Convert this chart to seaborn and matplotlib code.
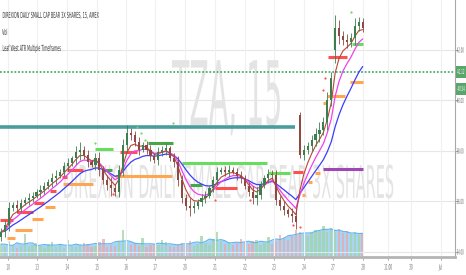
import numpy as np
import pandas as pd
import matplotlib
matplotlib.use("Agg")
import matplotlib.pyplot as plt
import seaborn as sns
from matplotlib import patheffects
from matplotlib.transforms import Affine2D
from matplotlib.patches import Rectangle

# ---------------- data ----------------
closes = [34.79, 35.07, 35.74, 35.86, 35.74, 35.94, 36.06, 36.14, 36.22, 36.38,
          36.46, 36.61, 36.77, 36.93, 37.01, 37.17, 37.41, 37.52, 37.72, 37.96,
          38.04, 37.84, 37.56, 37.45, 37.72, 37.25, 36.85, 36.65, 36.53, 36.38,
          37.25, 38.24, 38.71, 38.63, 38.36, 38.04, 38.24, 38.04, 37.80, 37.64,
          37.96, 38.04, 38.10, 37.72, 37.56, 36.85, 36.14, 35.82, 35.74, 35.82,
          35.98, 36.14, 36.22, 36.53, 36.85, 37.17, 37.25, 37.17, 37.25, 37.17,
          37.01, 36.93, 36.61, 36.38, 36.14, 36.26, 36.65, 36.93, 37.09, 37.05,
          36.06, 35.82, 35.66, 35.50, 35.43, 35.19, 37.84, 38.04, 38.20, 38.44,
          38.67, 38.83, 39.15, 40.02, 40.89, 42.87, 42.55, 42.40, 42.32, 42.48,
          42.95, 43.11, 42.87]
first_open = 34.60
gap_opens = {76: 39.43, 85: 42.00}
wicks = [0.15, 0.2, 0.25, 0.1, 0.2, 0.15, 0.1, 0.2, 0.15, 0.1,
         0.2, 0.15, 0.1, 0.2, 0.25, 0.1, 0.15, 0.2, 0.1, 0.25,
         0.3, 0.15, 0.2, 0.1, 0.2, 0.25, 0.15, 0.2, 0.3, 0.15,
         0.2, 0.25, 0.3, 0.2, 0.15, 0.2, 0.1, 0.15, 0.2, 0.1,
         0.2, 0.15, 0.2, 0.1, 0.2, 0.25, 0.2, 0.15, 0.3, 0.2,
         0.1, 0.15, 0.2, 0.1, 0.15, 0.2, 0.1, 0.15, 0.2, 0.1,
         0.15, 0.2, 0.1, 0.15, 0.25, 0.3, 0.15, 0.1, 0.2, 0.15,
         0.2, 0.15, 0.2, 0.1, 0.25, 0.3, 0.1, 0.2, 0.15, 0.2,
         0.25, 0.3, 0.2, 0.3, 0.25, 0.5, 0.3, 0.2, 0.25, 0.2,
         0.3, 0.2, 0.15]
volumes_k = [120, 90, 150, 110, 80, 100, 220, 90, 110, 130,
             100, 85, 120, 140, 95, 110, 80, 160, 100, 90,
             110, 130, 120, 95, 105, 140, 170, 90, 110, 100,
             150, 260, 120, 110, 130, 100, 180, 95, 110, 120,
             110, 160, 140, 100, 90, 120, 130, 110, 150, 100,
             120, 200, 130, 110, 170, 240, 150, 120, 140, 110,
             130, 170, 140, 120, 150, 160, 110, 130, 190, 120,
             150, 210, 180, 160, 200, 260, 240, 220, 200, 230,
             260, 250, 300, 240, 280, 260, 270, 230, 250, 220,
             240, 210, 230]

price_ticks = [34, 36, 38, 40, 42]
price_tick_labels = ["34.00", "36.00", "38.00", "40.00", "42.00"]
date_tick_pos = [1.74, 9.11, 16.75, 24.38, 31.76, 39.14, 46.77, 54.41, 62.04,
                 69.42, 77.05, 84.43, 92.07, 98.43, 104.28, 111.91]
date_tick_labels = ["10", "13", "14", "15", "16", "17", "20", "21", "22", "23",
                    "24", "27", "28", "11:00", "30", "Jul"]
last_price = 41.13
last_price_label = "41.12"
atr_value_label = "40.54"

# ATR level segments (Leaf West ATR Multiple Timeframes)
seg_start = [-0.3, 23.87, 46.01, 67.89, 89.27, 37.36, 25.91, 48.05,
             -0.3, 4.03, 8.30, 12.40, 15.50, 16.75, 30.23, 54.41, 74.26, 83.16,
             1.48, 3.52, 7.84, 11.15, 15.73, 28.96, 76.54, 78.07, 79.85, 81.89, 82.91, 88.76,
             81.89]
seg_end = [74.76, 28.45, 67.64, 73.49, 92.07, 43.72, 28.20, 51.10,
           3.01, 8.10, 10.90, 13.90, 16.75, 20.82, 34.56, 60.01, 76.80, 88.00,
           3.52, 7.84, 10.64, 13.70, 23.36, 43.47, 77.31, 79.09, 81.12, 82.91, 87.49, 92.07,
           92.07]
seg_price = [38.95, 38.08, 37.52, 37.13, 42.24, 38.32, 37.25, 36.65,
             35.27, 35.58, 35.92, 36.40, 36.95, 37.25, 37.96, 36.53, 37.17, 41.72,
             34.55, 34.87, 35.31, 35.78, 36.69, 37.01, 36.26, 36.77, 37.13, 39.90, 40.18, 40.73,
             37.29]
seg_kind = ["teal", "lime", "lime", "lime", "lime", "green", "green", "green",
            "red", "red", "red", "red", "red", "red", "red", "red", "red", "red",
            "orange", "orange", "orange", "orange", "orange", "orange", "orange", "orange",
            "orange", "orange", "orange", "orange",
            "purple"]
green_dot_x = [23.87, 34.56, 35.58, 36.60, 43.72, 89.01]
green_dot_p = [38.32, 38.95, 38.71, 38.44, 39.11, 43.50]
red_dot_x = [82.40, 81.89, 76.03, 54.41, 63.31, 28.45, 74.26]
red_dot_p = [40.89, 40.42, 34.99, 36.06, 36.06, 36.30, 35.07]

kind_colors = {"teal": "#4a9d9c", "lime": "#66dd5f", "green": "#45a845",
               "red": "#ff5050", "orange": "#ffa654", "purple": "#9d48b5"}


# ---- glyph reshaping (the reference screenshot is horizontally compressed) ----
class Reshape(patheffects.AbstractPathEffect):
    def __init__(self, sx=None, width=None, sy=1.0, anchor="left"):
        super().__init__()
        self.sx, self.width, self.sy, self.anchor = sx, width, sy, anchor

    def draw_path(self, renderer, gc, tpath, affine, rgbFace=None):
        ext = tpath.get_extents(affine)
        if self.width is not None and ext.width > 0:
            sx = self.width * renderer.dpi / 100.0 / ext.width
        else:
            sx = self.sx if self.sx is not None else 1.0
        if self.anchor == "center":
            xa = 0.5 * (ext.x0 + ext.x1)
        elif self.anchor == "right":
            xa = ext.x1
        else:
            xa = ext.x0
        yb = affine.get_matrix()[1, 2]
        aff = affine + Affine2D().translate(-xa, -yb).scale(sx, self.sy).translate(xa, yb)
        renderer.draw_path(gc, tpath, aff, rgbFace)


def reshape(txt, **kw):
    txt.set_path_effects([Reshape(**kw)])
    return txt


sns.set_theme(style="white")
plt.rcParams["font.family"] = ["DejaVu Sans"]

W, H = 466, 275
fig = plt.figure(figsize=(W / 100, H / 100), dpi=100)
fig.patch.set_facecolor("white")

ax = fig.add_axes([0, 18 / H, 455 / W, 257 / H])
vax = fig.add_axes([0, 19 / H, 455 / W, 50 / H])
vax.set_zorder(0)
ax.set_zorder(1)
ax.patch.set_alpha(0)

n = len(closes)
x = np.arange(n)
opens = [first_open] + closes[:-1]
for k, v in gap_opens.items():
    opens[k] = v
opens = np.array(opens)
cl = np.array(closes)
wk = np.array(wicks)
highs = np.maximum(opens, cl) + wk
lows = np.minimum(opens, cl) - wk
up = cl >= opens

xlim = (-0.3, 115.5)

# ---------------- volume pane ----------------
vol = np.array(volumes_k, dtype=float)
vol_ma = pd.Series(vol).rolling(5, min_periods=1, center=True).mean().values
vax.fill_between(x, 0, vol_ma, color="#a3d2f5", alpha=0.95, lw=0)
sns.lineplot(x=x, y=vol_ma, ax=vax, color="#62b3ee", lw=0.8, legend=False)
vax.bar(x, vol, width=0.6, color=np.where(up, "#9fd4a4", "#e9a8a8"), alpha=0.75, lw=0)
vax.set_xlim(*xlim)
vax.set_ylim(0, 500)
vax.axis("off")

# ---------------- main pane ----------------
ax.set_xlim(*xlim)
ax.set_ylim(33.80, 43.98)
for p in price_ticks:
    ax.axhline(p, color="#e6e6e6", lw=0.8, zorder=0)
for d in date_tick_pos:
    ax.axvline(d, color="#f0f0f0", lw=0.8, zorder=0)

# watermarks (font size chosen for the width, glyphs stretched to the height)
wm1 = ax.text(43.47, 39.03, "TZA, 15", fontsize=20, color="#e4e4e4", ha="left",
              va="baseline", zorder=0.5)
reshape(wm1, width=108, sy=3.2)
wm2 = ax.text(15.73, 36.14, "DIREXION DAILY SMALL CAP BEAR 3X SHARES", fontsize=9.3,
              color="#e4e4e4", ha="left", va="baseline", zorder=0.5)
reshape(wm2, width=329, sy=3.5)

# ATR levels
for s0, s1, pr, kd in zip(seg_start, seg_end, seg_price, seg_kind):
    ax.plot([s0, s1], [pr, pr], color=kind_colors[kd],
            lw=2.6 if kd == "teal" else 2.2, solid_capstyle="butt", zorder=2)
ax.scatter(green_dot_x, green_dot_p, s=2.5, color="#66dd5f", lw=0, zorder=2)
ax.scatter(red_dot_x, red_dot_p, s=2.5, color="#ff5050", lw=0, zorder=2)

# last price line
ax.axhline(last_price, color="#4caf6a", lw=1.3, ls=(0, (1, 1)), zorder=2)

# moving averages
ema_fast = pd.Series(cl).ewm(span=4, adjust=False).mean().values
ema_mid = pd.Series(cl).ewm(span=7, adjust=False).mean().values
ema_slow = pd.Series(cl).ewm(span=14, adjust=False).mean().values
sns.lineplot(x=x, y=ema_slow, ax=ax, color="#3c3cff", lw=0.9, legend=False, zorder=3)
sns.lineplot(x=x, y=ema_mid, ax=ax, color="#f040f0", lw=0.9, legend=False, zorder=3)
sns.lineplot(x=x, y=ema_fast, ax=ax, color="#b8473a", lw=0.8, legend=False, zorder=3)

# candles
cols = np.where(up, "#3e7e4e", "#8e4a40")
ax.vlines(x, lows, highs, colors=cols, lw=0.6, zorder=4)
body = np.maximum(np.abs(cl - opens), 0.04)
ax.bar(x, body, bottom=np.minimum(opens, cl), width=0.55, color=cols, lw=0, zorder=4)

# axes styling
ax.set_xlabel("")
ax.set_ylabel("")
for side in ["top", "left"]:
    ax.spines[side].set_visible(False)
ax.spines["right"].set_color("#a8a8a8")
ax.spines["right"].set_linewidth(0.8)
ax.spines["bottom"].set_color("#b4b4b4")
ax.spines["bottom"].set_linewidth(2)
ax.yaxis.tick_right()
ax.set_yticks(price_ticks)
ax.set_yticklabels(price_tick_labels)
ax.set_xticks(date_tick_pos)
ax.set_xticklabels(date_tick_labels)
# price labels are right-aligned near the image edge, then compressed to the right
ax.tick_params(axis="y", right=True, left=False, length=2, width=0.6, color="#999999",
               pad=4.7, labelsize=5, labelcolor="#666666")
ax.tick_params(axis="x", bottom=True, length=2, width=0.6, color="#999999",
               pad=2, labelsize=5.5, labelcolor="#666666")
for lbl in ax.get_yticklabels():
    lbl.set_horizontalalignment("right")
    reshape(lbl, sx=0.36, anchor="right")
for lbl in ax.get_xticklabels():
    reshape(lbl, sx=0.36, anchor="center")

# price label boxes on the right
for (y0, y1, txt) in [(66, 78, last_price_label), (83, 95, atr_value_label)]:
    fig.patches.append(Rectangle((455.5 / W, 1 - y1 / H), 10.5 / W, (y1 - y0) / H,
                                 transform=fig.transFigure, color="#58a66a", lw=0))
    t = fig.text(465 / W, 1 - (y0 + y1) / 2 / H, txt, fontsize=5, color="white",
                 ha="right", va="center")
    reshape(t, width=7, anchor="right")

# legend / title lines top-left
t1 = fig.text(2 / W, 1 - 18 / H, "DIREXION DAILY SMALL CAP BEAR 3X SHARES, 15, AMEX",
              fontsize=6, color="#333333", va="baseline")
reshape(t1, width=96)
t2 = fig.text(2 / W, 1 - 35 / H, "Vol", fontsize=6, color="#333333", va="baseline")
reshape(t2, width=5)
t3 = fig.text(2 / W, 1 - 51 / H, "Leaf West ATR Multiple Timeframes", fontsize=6,
              color="#333333", va="baseline")
reshape(t3, width=58)

fig.savefig("out.png", dpi=100, facecolor="white")
